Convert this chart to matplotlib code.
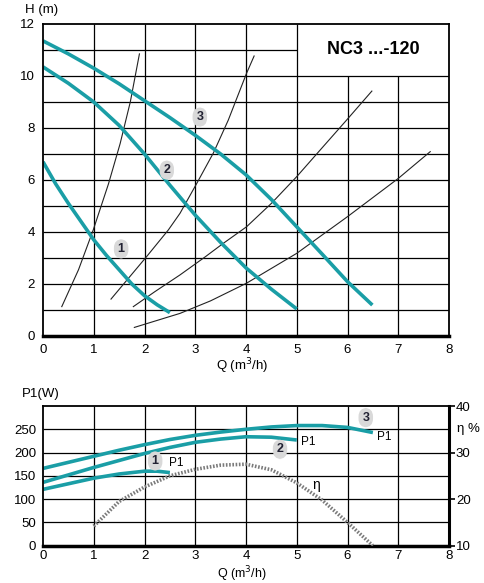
import numpy as np
import matplotlib
matplotlib.use("Agg")
from matplotlib import pyplot as plt

plt.rcParams['font.family'] = ['Liberation Sans', 'DejaVu Sans']

# H-Q krivulje pumpe (brzine 1, 2, 3)
q1 = [0, 0.25, 0.5, 0.75, 1.0, 1.25, 1.5, 1.75, 2.0, 2.25, 2.5]
h1 = [6.7, 5.85, 5.1, 4.4, 3.7, 3.1, 2.55, 2.0, 1.55, 1.2, 0.9]
q2 = [0, 0.5, 1, 1.5, 2, 2.5, 3, 3.5, 4, 4.5, 5]
h2 = [10.35, 9.72, 9.0, 8.1, 7.0, 5.8, 4.65, 3.6, 2.62, 1.8, 1.04]
q3 = [0, 0.5, 1, 1.5, 2, 2.5, 3, 3.5, 4, 4.5, 5, 5.5, 6, 6.49]
h3 = [11.35, 10.85, 10.3, 9.7, 9.05, 8.4, 7.72, 7.0, 6.2, 5.25, 4.2, 3.15, 2.09, 1.19]

# krivulje sustava
qa = [0.37, 0.7, 0.99, 1.29, 1.52, 1.72, 1.9]
ha = [1.13, 2.55, 4.08, 5.85, 7.4, 9.0, 10.85]
qb = [1.34, 2.04, 2.47, 2.7, 3.03, 3.36, 3.65, 4.01, 4.16]
hb = [1.42, 3.05, 4.08, 4.72, 5.87, 7.05, 8.3, 10.1, 10.77]
qc = [1.78, 2.2, 2.7, 3.2, 3.55, 4.01, 4.5, 5.0, 5.46, 5.98, 6.48]
hc = [1.13, 1.7, 2.35, 3.05, 3.56, 4.2, 5.1, 6.13, 7.15, 8.3, 9.42]
qd = [1.8, 2.7, 3.3, 4.01, 5.0, 6.0, 7.0, 7.63]
hd = [0.33, 0.87, 1.35, 2.03, 3.18, 4.59, 6.06, 7.09]

# P1-Q krivulje
p1q = [0, 0.5, 1, 1.5, 2, 2.25, 2.5]
p1 = [121, 133, 145, 154, 160, 160, 157]
p2q = [0, 0.5, 1, 1.5, 2, 2.5, 3, 3.5, 4, 4.5, 5]
p2 = [136, 152, 168, 183, 198, 211, 222, 229, 234, 233, 227]
p3q = [0, 0.5, 1, 1.5, 2, 2.5, 3, 3.5, 4, 4.5, 5, 5.5, 6, 6.5]
p3 = [166, 179, 192, 205, 217, 228, 237, 244, 250, 255, 258, 258, 254, 243]

# stupanj korisnosti
etaq = [1, 1.5, 2, 2.5, 3, 3.5, 4, 4.5, 5, 5.5, 6, 6.5]
eta = [14.2, 19.5, 22.6, 25, 26.4, 27.3, 27.5, 26.3, 23.5, 19.8, 15, 10]

teal = '#1a9ea6'
fs = 9.5

fig = plt.figure(figsize=(4.84, 5.83), dpi=100)

# ---- gornji graf H(Q)
ax = fig.add_axes([43/484, 1-336/583, 406/484, 312/583])
ax.set_xlim(0, 8)
ax.set_ylim(0, 12)
ax.vlines([1, 2, 3, 4, 5], 0, 12, color='k', lw=0.9)
ax.vlines([6, 7], 0, 10, color='k', lw=0.9)
ax.hlines(range(1, 11), 0, 8, color='k', lw=0.9)
ax.hlines(11, 0, 5, color='k', lw=0.9)
for s in ['left', 'top', 'right']:
    ax.spines[s].set_linewidth(1.3)
ax.spines['bottom'].set_linewidth(2.5)
ax.set_xticks(range(9))
ax.set_yticks(range(0, 13, 2))
ax.tick_params(length=0, labelsize=fs, pad=6)

for q, h in [(qa, ha), (qb, hb), (qc, hc), (qd, hd)]:
    ax.plot(q, h, color='#222222', lw=0.8)
for q, h in [(q1, h1), (q2, h2), (q3, h3)]:
    ax.plot(q, h, color=teal, lw=2.6, solid_capstyle='butt', solid_joinstyle='round')

lbl = dict(fontsize=9, fontweight='bold', ha='center', va='center', color='#222233',
           bbox=dict(boxstyle='round,pad=0.3,rounding_size=0.7', fc='#d9d9d9', ec='none'))
ax.text(1.54, 3.35, '1', **lbl)
ax.text(2.44, 6.38, '2', **lbl)
ax.text(3.09, 8.42, '3', **lbl)

ax.text(6.5, 11.0, 'NC3 ...-120', fontsize=13, fontweight='bold', ha='center', va='center')
fig.text(25/484, 1-10/583, 'H (m)', fontsize=fs, ha='left', va='center')
fig.text(242/484, 1-366/583, 'Q (m$^3$/h)', fontsize=fs, ha='center', va='center')

# ---- donji graf P1(Q) i eta
bx = fig.add_axes([43/484, 1-545.7/583, 406/484, 139.7/583])
bx.set_xlim(0, 8)
bx.set_ylim(0, 300)
bx.vlines(range(1, 8), 0, 300, color='k', lw=0.9)
bx.hlines(range(50, 300, 50), 0, 8, color='k', lw=0.9)
bx.spines['left'].set_linewidth(1.3)
bx.spines['top'].set_linewidth(1.3)
bx.spines['right'].set_linewidth(2.2)
bx.spines['bottom'].set_linewidth(2.5)
bx.set_xticks(range(9))
bx.set_yticks(range(0, 300, 50))
bx.tick_params(axis='y', length=0, labelsize=fs, pad=5)
bx.tick_params(axis='x', length=0, labelsize=fs, pad=3)

for q, p in [(p1q, p1), (p2q, p2), (p3q, p3)]:
    bx.plot(q, p, color=teal, lw=2.6, solid_capstyle='butt', solid_joinstyle='round')

ex = bx.twinx()
ex.set_ylim(10, 40)
ex.set_yticks([10, 20, 30, 40])
ex.tick_params(length=4, width=1.2, labelsize=fs, pad=1)
for s in ex.spines.values():
    s.set_visible(False)
ex.plot(etaq, eta, color='#7a7a7a', lw=2.6, linestyle=(0, (0.45, 0.45)))
ex.text(8.15, 35, 'η %', fontsize=fs, ha='left', va='center', clip_on=False)

bx.text(2.21, 182, '1', **lbl)
bx.text(4.67, 207, '2', **lbl)
bx.text(6.36, 275, '3', **lbl)
bx.text(2.63, 178, 'P1', fontsize=8.5, ha='center', va='center')
bx.text(5.23, 222, 'P1', fontsize=8.5, ha='center', va='center')
bx.text(6.72, 234, 'P1', fontsize=8.5, ha='center', va='center')
bx.text(5.38, 130, 'η', fontsize=10, ha='center', va='center')

fig.text(22/484, 1-394/583, 'P1(W)', fontsize=fs, ha='left', va='center')
fig.text(242/484, 1-574/583, 'Q (m$^3$/h)', fontsize=9, ha='center', va='center')

fig.savefig('out.png', dpi=100)
